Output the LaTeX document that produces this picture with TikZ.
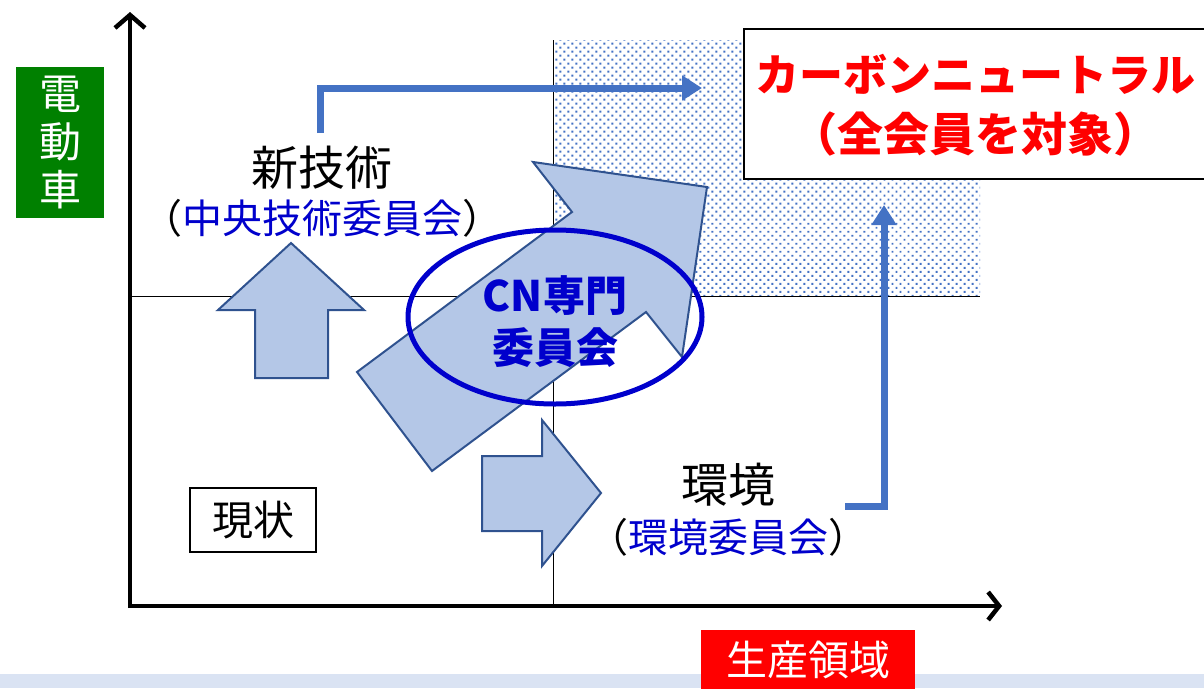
\documentclass[tikz,border=0pt]{standalone}
\usepackage{fontspec}
\newfontfamily\jp{Noto Sans CJK JP}
\usetikzlibrary{arrows.meta,patterns.meta,shapes.geometric}
\definecolor{cgreen}{RGB}{0,128,0}
\definecolor{cred}{RGB}{255,0,0}
\definecolor{afill}{RGB}{180,199,231}
\definecolor{aedge}{RGB}{47,82,143}
\definecolor{lblue}{RGB}{68,114,196}
\definecolor{dblue}{RGB}{0,0,204}
\definecolor{band}{RGB}{218,227,243}
\tikzset{
  blockarrow/.style={fill=afill,draw=aedge,line width=2pt,line join=miter},
  flow/.style={draw=lblue,line width=7pt,-{Triangle[length=20pt,width=24pt]}},
  axis/.style={line width=4.5pt},
  thinline/.style={line width=1pt},
  lbl/.style={font=\jp\fontsize{47}{52}\selectfont,inner sep=0pt},
  sublbl/.style={font=\jp\fontsize{40}{44}\selectfont,inner sep=0pt},
}
\begin{document}
\begin{tikzpicture}[x=1pt,y=-1pt]
\useasboundingbox (0,0) rectangle (1204,688);
% bottom band
\fill[band] (0,674) rectangle (1204,688);
% dotted area
\fill[pattern={Dots[distance=5.66pt,angle=45,radius=1.4pt]},pattern color=lblue] (553,40) rectangle (980,296);
% thin quadrant lines
\draw[thinline] (553,40) -- (553,606);
\draw[thinline] (130,296) -- (980,296);
% axes
\coordinate (O) at (130,606);
\coordinate (ytop) at (130,12);
\coordinate (xend) at (1002,606);
\draw[axis,-{Straight Barb[length=13pt,width=30pt]}] (130,608) -- (ytop);
\draw[axis,-{Straight Barb[length=11pt,width=28pt]}] (128,606) -- (xend);
% axis labels
\node[fill=cgreen,text=white,minimum width=88pt,minimum height=151pt,inner sep=0pt,align=center,font=\jp\fontsize{42}{48}\selectfont] (ylab) at (60,142.5) {電\\動\\車};
\node[fill=cred,text=white,minimum width=214pt,minimum height=60pt,inner sep=0pt,font=\jp\fontsize{41}{48}\selectfont] (xlab) at (808,660) {生産領域};
% target box
\node[draw,line width=2pt,fill=white,minimum width=480pt,minimum height=150pt,anchor=north west,inner sep=0pt] (goal) at (743,28) {};
\node[text=cred,font=\jp\bfseries\fontsize{44}{60}\selectfont,align=center,inner sep=0pt] (goaltxt) at (975,105) {カーボンニュートラル\\{\fontsize{46}{60}\selectfont（全会員を対象）}};
% block arrows
\draw[blockarrow] (291,243) -- (364,310) -- (328,310) -- (328,378) -- (255,378) -- (255,310) -- (218,310) -- cycle;
\draw[blockarrow] (601,493) -- (542,566) -- (542,531) -- (482,531) -- (482,456) -- (542,456) -- (542,420) -- cycle;
\draw[blockarrow] (533,162) -- (707,187) -- (682,357) -- (646,312) -- (432,471) -- (357,372) -- (572,212) -- cycle;
% ellipse + CN text
\node[draw=dblue,line width=5pt,ellipse,minimum width=294pt,minimum height=174pt,inner sep=0pt] (cn) at (555,317) {};
\node[text=dblue,font=\jp\bfseries\fontsize{42}{52}\selectfont,align=center,inner sep=0pt] (cntxt) at (555,322) {CN専門\\委員会};
% labels
\node[lbl] (tech) at (322,168) {新技術};
\node[sublbl] (techsub) at (322,218) {（\textcolor{dblue}{中央技術委員会}）};
\node[lbl] (env) at (728,485) {環境};
\node[sublbl] (envsub) at (728,537) {（\textcolor{dblue}{環境委員会}）};
\node[draw,line width=1.2pt,minimum width=126pt,minimum height=64pt,inner sep=0pt,font=\jp\fontsize{41}{48}\selectfont] (now) at (253,520) {現状};
% flow arrows
\coordinate (f1s) at (320,133);
\coordinate (f1e) at (702,88);
\draw[flow] (f1s) |- (f1e);
\coordinate (f2s) at (845,506);
\coordinate (f2e) at (884,205);
\draw[flow] (f2s) -| (f2e);
\end{tikzpicture}
\end{document}
